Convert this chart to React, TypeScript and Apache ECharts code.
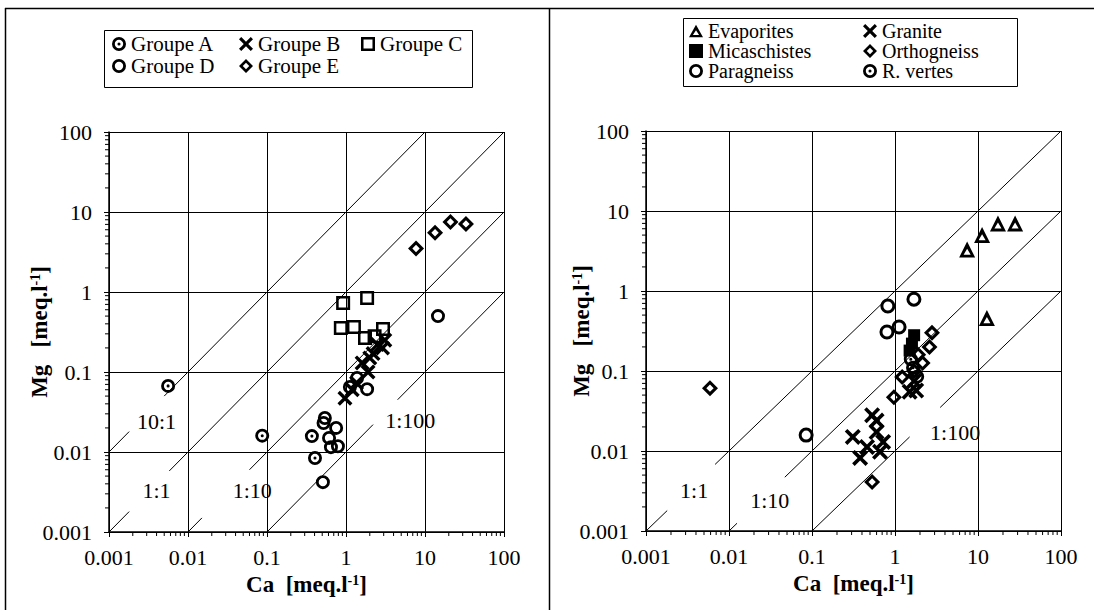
import React, { useEffect, useRef } from 'react';
import * as echarts from 'echarts';

// ---------- data ----------
const tickLabels = ['0.001', '0.01', '0.1', '1', '10', '100'];

// left panel: [Ca, Mg] in meq/l
const groupeA = [[0.0056, 0.067], [0.087, 0.016], [0.37, 0.0158], [0.405, 0.0084]];
const groupeB = [[0.97, 0.047], [1.2, 0.06], [1.36, 0.073], [1.6, 0.13], [1.9, 0.1], [2.0, 0.15], [2.2, 0.17], [2.5, 0.22], [2.9, 0.2], [3.1, 0.25]];
const groupeC = [[0.92, 0.73], [1.85, 0.84], [0.86, 0.355], [1.26, 0.365], [2.94, 0.345], [1.74, 0.266], [2.3, 0.28]];
const groupeD = [[14.6, 0.5], [0.54, 0.0266], [0.52, 0.023], [0.75, 0.02], [0.61, 0.015], [0.645, 0.0115], [0.79, 0.0118], [0.51, 0.0042], [1.12, 0.065], [1.85, 0.061], [1.38, 0.084]];
const groupeE = [[7.7, 3.5], [13.4, 5.5], [21, 7.5], [33, 7.1]];

// right panel
const evaporites = [[7.4, 3.3], [11.2, 5], [17.4, 7], [28, 7], [12.8, 0.46]];
const granite = [[0.31, 0.015], [0.53, 0.028], [0.6, 0.024], [0.38, 0.0082], [0.6, 0.0173], [0.72, 0.013], [0.66, 0.0098], [0.46, 0.0112], [1.5, 0.055], [1.8, 0.057], [1.7, 0.075]];
const micaschistes = [[1.7, 0.28], [1.6, 0.22], [1.5, 0.18]];
const orthogneiss = [[0.0059, 0.061], [2.79, 0.3], [2.6, 0.2], [2.15, 0.126], [1.22, 0.084], [0.97, 0.047], [0.53, 0.0041], [1.7, 0.1], [1.9, 0.16]];
const paragneiss = [[0.085, 0.0158], [0.82, 0.65], [1.69, 0.79], [0.8, 0.307], [1.12, 0.355]];
const rVertes = [[1.55, 0.14], [1.85, 0.085], [1.65, 0.11]];

// ratio lines Mg = ratio * Ca, visible Ca ranges
const diagLeft = [
  { ratio: 10, ranges: [[0.001, 0.0018], [0.005, 10]] },
  { ratio: 1, ranges: [[0.001, 0.0018], [0.0058, 100]] },
  { ratio: 0.1, ranges: [[0.01, 0.015], [0.06, 100]] },
  { ratio: 0.01, ranges: [[0.1, 2.2], [4.5, 100]] },
];
const diagRight = [
  { ratio: 1, ranges: [[0.001, 0.0018], [0.0068, 100]] },
  { ratio: 0.1, ranges: [[0.01, 0.0125], [0.047, 100]] },
  { ratio: 0.01, ranges: [[0.1, 1.5], [3.5, 100]] },
];
const ratioLabelsLeft = [
  { name: '10:1', value: [0.004, 0.024] },
  { name: '1:1', value: [0.004, 0.0033] },
  { name: '1:10', value: [0.065, 0.0033] },
  { name: '1:100', value: [6.5, 0.025] },
];
const ratioLabelsRight = [
  { name: '1:1', value: [0.0038, 0.0032] },
  { name: '1:10', value: [0.031, 0.0024] },
  { name: '1:100', value: [5.3, 0.017] },
];

// ---------- symbols ----------
const RING = 'path://M0,-10A10,10 0 1,1 0,10A10,10 0 1,1 0,-10ZM0,-6A6,6 0 1,0 0,6A6,6 0 1,0 0,-6Z';
const RING_DOT = RING + 'M0,-2.2A2.2,2.2 0 1,1 0,2.2A2.2,2.2 0 1,1 0,-2.2Z';
const CROSS = 'path://M-10,-6.8L-6.8,-10L0,-3.2L6.8,-10L10,-6.8L3.2,0L10,6.8L6.8,10L0,3.2L-6.8,10L-10,6.8L-3.2,0Z';
const SQUARE = 'path://M-10,-10L10,-10L10,10L-10,10ZM-6.4,-6.4L-6.4,6.4L6.4,6.4L6.4,-6.4Z';
const DIAMOND = 'path://M0,-10L10,0L0,10L-10,0ZM0,-4.6L-4.6,0L0,4.6L4.6,0Z';
const TRIANGLE = 'path://M0,-10L10,8L-10,8ZM0,-2L-4.4,4.8L4.4,4.8Z';
const FSQUARE = 'path://M-10,-10L10,-10L10,10L-10,10Z';

const FONT = '"Liberation Serif", "Times New Roman", serif';

function fmt(v: number) {
  const e = Math.round(Math.log10(v));
  return tickLabels[e + 3] ?? '';
}

function minorValues() {
  const out: number[] = [];
  for (let d = -3; d <= 1; d++) for (let m = 2; m <= 9; m++) out.push(m * Math.pow(10, d));
  return out;
}

export default function App() {
  const ref = useRef<HTMLDivElement>(null);
  useEffect(() => {
    if (!ref.current) return;
    const chart = echarts.init(ref.current, undefined, { renderer: 'svg' });

    const axisCommon = (gi: number, labelMargin: number) => ({
      type: 'log' as const,
      logBase: 10,
      min: 0.001,
      max: 100,
      gridIndex: gi,
      nameMoveOverlap: false,
      axisLine: { show: true, onZero: false, lineStyle: { color: '#000', width: 1.5 } },
      axisTick: { show: true, length: 5, lineStyle: { color: '#000', width: 1 } },
      splitLine: { show: true, lineStyle: { color: '#000', width: 1 } },
      axisLabel: { formatter: fmt, color: '#000', fontFamily: FONT, fontSize: 22, margin: labelMargin },
      nameTextStyle: {
        fontFamily: FONT, fontSize: 23, fontWeight: 'bold', color: '#000',
        rich: { sup: { fontFamily: FONT, fontSize: 14, fontWeight: 'bold', color: '#000', verticalAlign: 'top' } },
      },
    });

    const scatter = (name: string, data: number[][], symbol: string, size: number, gi: number) => ({
      type: 'scatter', name, data, symbol, symbolSize: size,
      xAxisIndex: gi, yAxisIndex: gi, itemStyle: { color: '#000', opacity: 1 }, z: 5,
    });

    const diagSeries = (defs: { ratio: number; ranges: number[][] }[], gi: number) => {
      const out: any[] = [];
      defs.forEach((d) => d.ranges.forEach((r) => {
        out.push({
          type: 'line', data: [[r[0], r[0] * d.ratio], [r[1], r[1] * d.ratio]],
          xAxisIndex: gi, yAxisIndex: gi, symbol: 'none', silent: true, z: 2,
          lineStyle: { color: '#000', width: 1 },
        });
      }));
      return out;
    };

    const labelSeries = (data: any[], gi: number) => ({
      type: 'scatter', data, xAxisIndex: gi, yAxisIndex: gi, symbol: 'rect', symbolSize: 1, silent: true,
      itemStyle: { color: 'transparent', opacity: 1 }, z: 4,
      label: { show: true, position: 'inside', formatter: '{b}', color: '#000', fontFamily: FONT, fontSize: 22 },
    });

    const mv = minorValues();
    const minorX = (gi: number) => ({
      type: 'custom', xAxisIndex: gi, yAxisIndex: gi, silent: true, clip: false, z: 3,
      data: mv.map((v) => [v, 0.001]),
      renderItem: (_p: any, api: any) => {
        const p = api.coord([api.value(0), api.value(1)]);
        return { type: 'line', shape: { x1: p[0], y1: p[1], x2: p[0], y2: p[1] + 4 }, style: { stroke: '#000', lineWidth: 1 } };
      },
    });
    const minorY = (gi: number) => ({
      type: 'custom', xAxisIndex: gi, yAxisIndex: gi, silent: true, clip: false, z: 3,
      data: mv.map((v) => [0.001, v]),
      renderItem: (_p: any, api: any) => {
        const p = api.coord([api.value(0), api.value(1)]);
        return { type: 'line', shape: { x1: p[0], y1: p[1], x2: p[0] - 4, y2: p[1] }, style: { stroke: '#000', lineWidth: 1 } };
      },
    });

    const xName = 'Ca  [meq.l{sup|-1}]';
    const yName = 'Mg   [meq.l{sup|-1}]';

    const option: any = {
      animation: false,
      backgroundColor: '#fff',
      grid: [
        { left: 109, top: 132, width: 395, height: 400 },
        { left: 646, top: 131, width: 415, height: 400 },
      ],
      xAxis: [
        { ...axisCommon(0, 14), name: xName, nameLocation: 'middle', nameGap: 41 },
        { ...axisCommon(1, 14), name: xName, nameLocation: 'middle', nameGap: 41 },
      ],
      yAxis: [
        { ...axisCommon(0, 17), name: yName, nameLocation: 'middle', nameGap: 58, nameRotate: 90 },
        { ...axisCommon(1, 17), name: yName, nameLocation: 'middle', nameGap: 53, nameRotate: 90 },
      ],
      legend: [
        {
          left: 112, top: 33, orient: 'horizontal', width: 362, padding: 0, itemGap: 0,
          itemWidth: 14, itemHeight: 14,
          textStyle: { fontFamily: FONT, fontSize: 21, color: '#000', lineHeight: 22 },
          data: [
            { name: 'Groupe A', textStyle: { width: 108 } },
            { name: 'Groupe B', textStyle: { width: 103 } },
            { name: 'Groupe C' },
            { name: 'Groupe D', textStyle: { width: 108 } },
            { name: 'Groupe E' },
          ],
        },
        {
          left: 689, top: 21, orient: 'horizontal', width: 320, padding: 0, itemGap: 0,
          itemWidth: 14, itemHeight: 14,
          textStyle: { fontFamily: FONT, fontSize: 20, color: '#000', lineHeight: 20 },
          data: [
            { name: 'Evaporites', textStyle: { width: 155 } },
            { name: 'Granite' },
            { name: 'Micaschistes', textStyle: { width: 155 } },
            { name: 'Orthogneiss' },
            { name: 'Paragneiss', textStyle: { width: 155 } },
            { name: 'R. vertes' },
          ],
        },
      ],
      graphic: [
        { type: 'line', shape: { x1: 5, y1: 8.5, x2: 1094, y2: 8.5 }, style: { stroke: '#000', lineWidth: 1.5 } },
        { type: 'line', shape: { x1: 5.5, y1: 8, x2: 5.5, y2: 610 }, style: { stroke: '#000', lineWidth: 1.5 } },
        { type: 'line', shape: { x1: 549.5, y1: 8, x2: 549.5, y2: 610 }, style: { stroke: '#000', lineWidth: 1.5 } },
        { type: 'rect', shape: { x: 104.5, y: 30.5, width: 368, height: 57 }, style: { fill: 'none', stroke: '#000', lineWidth: 1 } },
        { type: 'rect', shape: { x: 683.5, y: 18.5, width: 334, height: 68 }, style: { fill: 'none', stroke: '#000', lineWidth: 1 } },
      ],
      series: [
        ...diagSeries(diagLeft, 0),
        ...diagSeries(diagRight, 1),
        labelSeries(ratioLabelsLeft, 0),
        labelSeries(ratioLabelsRight, 1),
        minorX(0), minorY(0), minorX(1), minorY(1),
        scatter('Groupe A', groupeA, RING_DOT, 14, 0),
        scatter('Groupe B', groupeB, CROSS, 15, 0),
        scatter('Groupe C', groupeC, SQUARE, 14, 0),
        scatter('Groupe D', groupeD, RING, 14, 0),
        scatter('Groupe E', groupeE, DIAMOND, 16, 0),
        scatter('Evaporites', evaporites, TRIANGLE, 16, 1),
        scatter('Granite', granite, CROSS, 16, 1),
        scatter('Micaschistes', micaschistes, FSQUARE, 12, 1),
        scatter('Orthogneiss', orthogneiss, DIAMOND, 16, 1),
        scatter('Paragneiss', paragneiss, RING, 15, 1),
        scatter('R. vertes', rVertes, RING_DOT, 14, 1),
      ],
    };
    chart.setOption(option);
    return () => chart.dispose();
  }, []);
  return <div ref={ref} style={{ position: 'absolute', left: 0, top: 0, width: 1094, height: 610, background: '#fff' }} />;
}
